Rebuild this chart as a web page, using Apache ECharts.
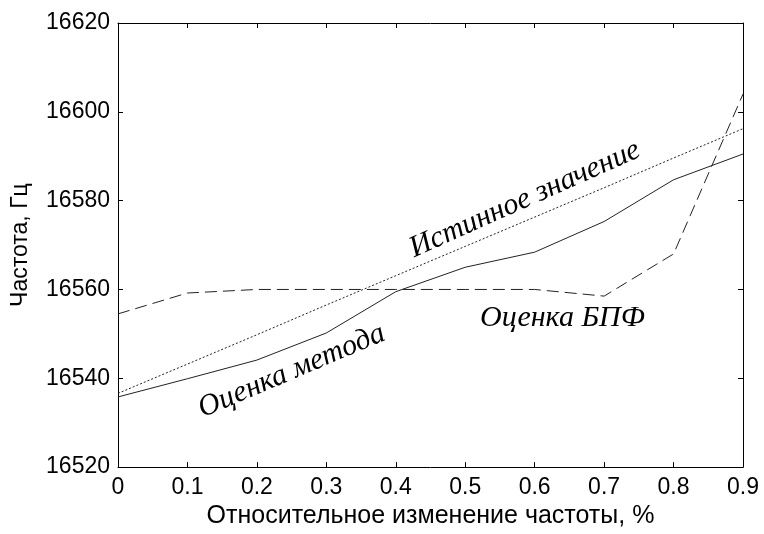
<!DOCTYPE html>
<html><head><meta charset="utf-8">
<script src="https://cdn.jsdelivr.net/npm/echarts@6/dist/echarts.min.js"></script>
<style>html,body{margin:0;padding:0;background:#fff}#c{width:764px;height:534px}</style>
</head><body><div id="c"></div>
<script>
const xValues = [0, 0.1, 0.2, 0.3, 0.4, 0.5, 0.6, 0.7, 0.8, 0.9];
const trueValue = [16536.6, 16543.2, 16549.8, 16556.5, 16563.1, 16569.7, 16576.3, 16582.9, 16589.6, 16596.2];
const methodEstimate = [16535.8, 16539.9, 16544.1, 16550.2, 16559.5, 16565.0, 16568.4, 16575.3, 16584.7, 16590.5];
const fftEstimate = [16554.5, 16559.2, 16560.0, 16560.0, 16560.0, 16560.0, 16560.0, 16558.5, 16568.0, 16604.0];
const yTicks = [16520, 16540, 16560, 16580, 16600, 16620];
const xTitle = 'Относительное изменение частоты, %';
const yTitle = 'Частота, Гц';
const annotations = [
  {text: 'Истинное значение', x: 0.586, y: 16580.3, rot: 24},
  {text: 'Оценка метода', x: 0.25, y: 16541.6, rot: 23},
  {text: 'Оценка БПФ', x: 0.64, y: 16553.6, rot: 0}
];

const chart = echarts.init(document.getElementById('c'), null, {renderer: 'canvas'});
const pair = arr => xValues.map((x, i) => [x, arr[i]]);
const lbl = {fontFamily: '"Liberation Sans", Arial, sans-serif', fontSize: 23, color: '#000'};
const tickStyle = {show: true, inside: true, length: 5, lineStyle: {color: '#000', width: 1}};
const baseX = {type: 'value', min: 0, max: 0.9, interval: 0.1, splitLine: {show: false},
  axisLine: {show: true, onZero: false, lineStyle: {color: '#000', width: 1}}, axisTick: tickStyle};
const baseY = {type: 'value', min: 16520, max: 16620, interval: 20, splitLine: {show: false},
  axisLine: {show: true, onZero: false, lineStyle: {color: '#000', width: 1}}, axisTick: tickStyle};
chart.setOption({
  animation: false,
  backgroundColor: '#fff',
  grid: {left: 118, top: 23, width: 625, height: 453, show: false},
  xAxis: [
    Object.assign({}, baseX, {position: 'bottom', name: xTitle, nameLocation: 'middle', nameGap: 35,
      nameTextStyle: Object.assign({}, lbl, {fontSize: 25}),
      axisLabel: Object.assign({}, lbl, {margin: 9, formatter: v => String(Math.round(v * 10) / 10)})}),
    Object.assign({}, baseX, {position: 'top', axisLabel: {show: false}})
  ],
  yAxis: [
    Object.assign({}, baseY, {position: 'left', name: yTitle, nameLocation: 'middle', nameGap: 86,
      nameTextStyle: lbl,
      axisLabel: Object.assign({}, lbl, {margin: 8, formatter: v => yTicks.includes(v) ? String(v) : ''})}),
    Object.assign({}, baseY, {position: 'right', axisLabel: {show: false}})
  ],
  series: [
    {type: 'line', data: pair(trueValue), symbol: 'none', lineStyle: {color: '#222', width: 1, type: [2, 2]}},
    {type: 'line', data: pair(methodEstimate), symbol: 'none', lineStyle: {color: '#222', width: 1, type: 'solid'}},
    {type: 'line', data: pair(fftEstimate), symbol: 'none', lineStyle: {color: '#222', width: 1, type: [12, 6]}}
  ]
});
const g = annotations.map(a => {
  const p = chart.convertToPixel({xAxisIndex: 0, yAxisIndex: 0}, [a.x, a.y]);
  return {type: 'text', x: p[0], y: p[1], rotation: a.rot * Math.PI / 180,
    style: {text: a.text, fontFamily: '"Liberation Serif", "DejaVu Serif", serif', fontStyle: 'italic',
      fontSize: 30, fill: '#000', align: 'center', verticalAlign: 'middle'}};
});
chart.setOption({graphic: g});
</script></body></html>
